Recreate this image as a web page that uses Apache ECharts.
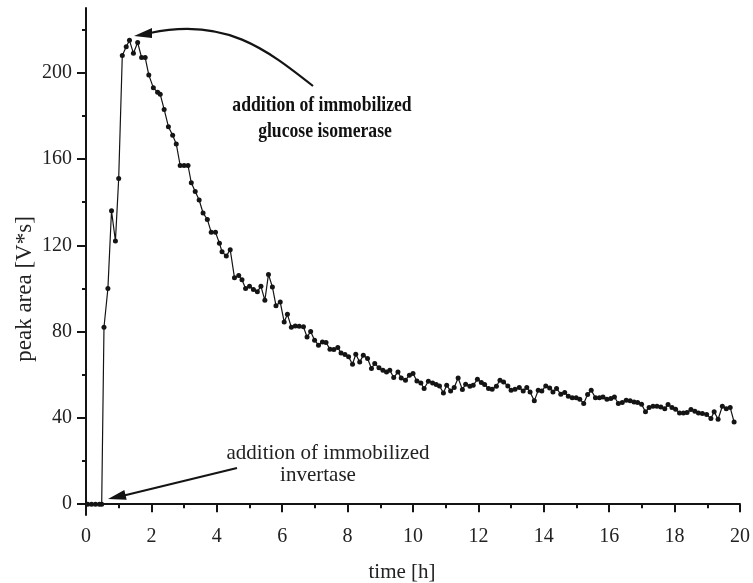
<!DOCTYPE html>
<html>
<head>
<meta charset="utf-8">
<script src="https://cdn.jsdelivr.net/npm/echarts@6/dist/echarts.min.js"></script>
<style>html,body{margin:0;padding:0;background:#fff}#c{width:753px;height:583px}</style>
</head>
<body>
<div id="c"></div>
<script>
const timeH = [0.05,0.17,0.29,0.41,0.48,0.55,0.67,0.78,0.90,1.00,1.11,1.23,1.33,1.45,1.58,1.70,1.81,1.92,2.06,2.19,2.27,2.39,2.52,2.65,2.76,2.88,3.00,3.12,3.22,3.34,3.46,3.58,3.71,3.83,3.96,4.08,4.16,4.29,4.41,4.54,4.67,4.77,4.88,5.00,5.12,5.24,5.35,5.47,5.58,5.70,5.81,5.94,6.06,6.16,6.28,6.40,6.52,6.65,6.76,6.87,6.99,7.11,7.23,7.34,7.46,7.58,7.70,7.80,7.92,8.03,8.15,8.25,8.37,8.48,8.61,8.73,8.83,8.96,9.08,9.19,9.29,9.41,9.54,9.64,9.77,9.89,10.00,10.12,10.24,10.34,10.47,10.60,10.71,10.81,10.93,11.03,11.15,11.26,11.38,11.51,11.61,11.74,11.84,11.97,12.09,12.19,12.31,12.42,12.55,12.66,12.77,12.90,13.00,13.12,13.25,13.37,13.48,13.58,13.71,13.83,13.94,14.06,14.18,14.28,14.39,14.52,14.64,14.75,14.87,14.99,15.10,15.22,15.34,15.45,15.58,15.70,15.81,15.93,16.05,16.16,16.28,16.40,16.52,16.64,16.76,16.87,16.99,17.11,17.22,17.34,17.46,17.58,17.70,17.80,17.92,18.03,18.15,18.27,18.38,18.50,18.62,18.73,18.85,18.98,19.11,19.21,19.33,19.46,19.58,19.70,19.82];
const peakArea = [0,0,0,0,0,82,100,136,122,151,208,212,215,209,214,207,207,199,193,191,190,183,175,171,167,157,157,157,149,145,141,135,132,126,126,121,117,115,118,105,106,104,100,101,99.5,98.5,101,94.5,106.5,100.7,92,93.7,84.5,88,82,82.6,82.5,82.2,77.5,80,76,73.7,75.2,75,71.8,71.7,72.6,70.1,69.4,68.3,64.9,69.5,65.9,69,67.5,62.9,65.2,63.2,62.1,61.3,62.1,58.7,61.3,58.5,57.5,59.8,60.6,57.1,56.2,53.6,57,56.2,55.5,54.8,51.6,55.1,52.5,54.1,58.5,53.2,55.6,54.7,55.1,57.9,56.4,55.5,53.6,53.3,54.7,57.5,56.7,54.8,52.8,53.3,54.1,52.5,54.1,52,47.9,52.8,52.5,54.8,53.9,52,53.6,51,51.8,50,49.4,49.4,48.7,46.7,50.9,52.8,49.3,49.4,49.7,48.7,49,49.7,46.7,47.1,48.2,47.9,47.4,47.1,46.3,42.8,44.8,45.4,45.4,45.1,44.3,46.2,44.8,44,42.3,42.3,42.5,43.9,43.1,42.3,42,41.6,39.7,42.8,39.4,45.4,44.3,44.8,38.1];
const yMajorTicks = [0,40,80,120,160,200];
const yMinorTicks = [20,60,100,140,180,220];
const xTickLabels = [0,2,4,6,8,10,12,14,16,18,20];

const FONT = 'Liberation Serif';
const INK = '#141414';
const chart = echarts.init(document.getElementById('c'), null, {renderer: 'canvas'});
const data = timeH.map((t, i) => [t, peakArea[i]]);

chart.setOption({
  animation: false,
  backgroundColor: '#fff',
  grid: {left: 86, right: 7, top: 8, bottom: 68, containLabel: false},
  xAxis: {
    type: 'value', min: 0, max: 20, interval: 2,
    axisLine: {lineStyle: {color: INK, width: 2}},
    axisTick: {length: 8, lineStyle: {color: INK, width: 2}},
    minorTick: {show: true, splitNumber: 2, length: 4, lineStyle: {color: INK, width: 2}},
    splitLine: {show: false},
    axisLabel: {fontFamily: FONT, fontSize: 20, color: '#222', margin: 12,
      formatter: v => xTickLabels.includes(v) ? String(v) : ''}
  },
  yAxis: [{
    type: 'value', min: -5, max: 230, position: 'left',
    axisLine: {show: true, lineStyle: {color: INK, width: 2}},
    axisTick: {show: true, length: 9, customValues: yMajorTicks, lineStyle: {color: INK, width: 2}},
    splitLine: {show: false},
    axisLabel: {fontFamily: FONT, fontSize: 20, color: '#222', margin: 14, customValues: yMajorTicks}
  }, {
    type: 'value', min: -5, max: 230, position: 'left',
    axisLine: {show: false},
    axisTick: {show: true, length: 4, customValues: yMinorTicks, lineStyle: {color: INK, width: 2}},
    splitLine: {show: false},
    axisLabel: {show: false}
  }],
  series: [{
    type: 'line', yAxisIndex: 0, data: data,
    symbol: 'circle', symbolSize: 5, showAllSymbol: true,
    itemStyle: {color: INK},
    lineStyle: {color: INK, width: 1.2}
  }],
  graphic: [
    {type: 'text', x: 402, y: 572, style: {text: 'time [h]', fontFamily: FONT, fontSize: 21, fill: '#222', textAlign: 'center', textVerticalAlign: 'middle'}},
    {type: 'text', x: 25, y: 289, rotation: Math.PI / 2, style: {text: 'peak area [V*s]', fontFamily: FONT, fontSize: 23, fill: '#222', textAlign: 'center', textVerticalAlign: 'middle'}},
    {type: 'text', x: 328, y: 453, style: {text: 'addition of immobilized', fontFamily: FONT, fontSize: 21, fill: '#222', textAlign: 'center', textVerticalAlign: 'middle'}},
    {type: 'text', x: 318, y: 475, style: {text: 'invertase', fontFamily: FONT, fontSize: 21, fill: '#222', textAlign: 'center', textVerticalAlign: 'middle'}},
    {type: 'text', x: 322, y: 106, scaleX: 0.84, style: {text: 'addition of immobilized', fontFamily: FONT, fontWeight: 'bold', fontSize: 21, fill: '#111', textAlign: 'center', textVerticalAlign: 'middle'}},
    {type: 'text', x: 325, y: 132, scaleX: 0.84, style: {text: 'glucose isomerase', fontFamily: FONT, fontWeight: 'bold', fontSize: 21, fill: '#111', textAlign: 'center', textVerticalAlign: 'middle'}},
    {type: 'bezierCurve', shape: {x1: 313, y1: 86, cpx1: 266, cpy1: 49, cpx2: 225, cpy2: 17, x2: 150, y2: 33}, style: {stroke: INK, lineWidth: 2.2, fill: null}},
    {type: 'polygon', shape: {points: [[134, 36], [152, 28], [152, 38]]}, style: {fill: INK}},
    {type: 'line', shape: {x1: 237, y1: 468, x2: 122, y2: 496}, style: {stroke: INK, lineWidth: 2.2}},
    {type: 'polygon', shape: {points: [[108, 499], [124.3, 489.9], [126.7, 499.7]]}, style: {fill: INK}}
  ]
});
</script>
</body>
</html>
